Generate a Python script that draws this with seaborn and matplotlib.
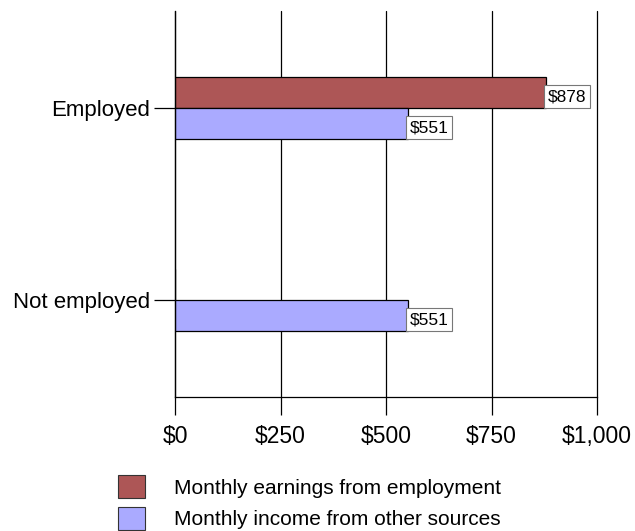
import matplotlib
matplotlib.use("Agg")
import matplotlib.pyplot as plt
import seaborn as sns
import pandas as pd
from matplotlib.patches import Patch

# Values
groups = ["Employed", "Not employed"]
series = ["Monthly earnings from employment", "Monthly income from other sources"]
earnings = [878, 0]
other_income = [551, 551]
x_ticks = [0, 250, 500, 750, 1000]
x_tick_labels = ["$0", "$250", "$500", "$750", "$1,000"]
colors = ["#AD5656", "#AAAAFF"]

sns.set_theme(style="white")
plt.rcParams["font.family"] = ["Liberation Sans", "DejaVu Sans"]
plt.rcParams["text.color"] = "black"
plt.rcParams["xtick.color"] = "black"
plt.rcParams["ytick.color"] = "black"

df = pd.DataFrame({
    "group": groups * 2,
    "series": [series[0]] * 2 + [series[1]] * 2,
    "value": earnings + other_income,
})

fig = plt.figure(figsize=(6.35, 5.31), dpi=100)
ax = fig.add_axes([175 / 635, 1 - 397 / 531, (597 - 175) / 635, (397 - 11) / 531])

sns.barplot(data=df, y="group", x="value", hue="series", order=groups,
            hue_order=series, palette=colors, width=0.322, dodge=True,
            edgecolor="black", linewidth=0.9, saturation=1, legend=False, ax=ax)

ax.set_xlim(0, 1000)
ax.set_ylim(1.505, -0.505)
ax.set_xticks(x_ticks)
ax.set_xticklabels(x_tick_labels, fontsize=16.5)
ax.set_xlabel("")
ax.set_ylabel("")
ax.tick_params(axis="y", labelsize=16, length=15, width=0.9, color="black",
               labelcolor="black", pad=3)
ax.tick_params(axis="x", length=13, width=0.9, color="black", labelcolor="black",
               pad=7, direction="out")
ax.xaxis.set_ticks_position("bottom")
ax.yaxis.set_ticks_position("left")

for s in ["top", "right"]:
    ax.spines[s].set_visible(False)
for s in ["left", "bottom"]:
    ax.spines[s].set_color("black")
    ax.spines[s].set_linewidth(0.9)

ax.grid(axis="x", color="black", linewidth=0.9)
ax.set_axisbelow(True)
for gl in ax.get_xgridlines():
    gl.set_clip_on(False)

# Value labels on the non-zero bars
for cont in ax.containers:
    for bar in cont:
        w = bar.get_width()
        if w <= 0:
            continue
        yc = bar.get_y() + bar.get_height() / 2
        ax.annotate(f"${w:.0f}", xy=(w, yc), xytext=(1.5, -3),
                    textcoords="offset points", ha="left", va="center",
                    fontsize=12.5, color="black",
                    bbox=dict(boxstyle="square,pad=0.22", fc="white",
                              ec="#777777", lw=0.8))

handles = [Patch(facecolor=c, edgecolor="#333333", linewidth=0.8) for c in colors]
fig.legend(handles, series, loc="upper left", bbox_to_anchor=(110 / 635, 1 - 467 / 531),
           frameon=False, fontsize=15, handlelength=1.3, handleheight=1.3,
           handletextpad=1.35, labelspacing=0.42, borderaxespad=0)

fig.savefig("out.png", dpi=100)
